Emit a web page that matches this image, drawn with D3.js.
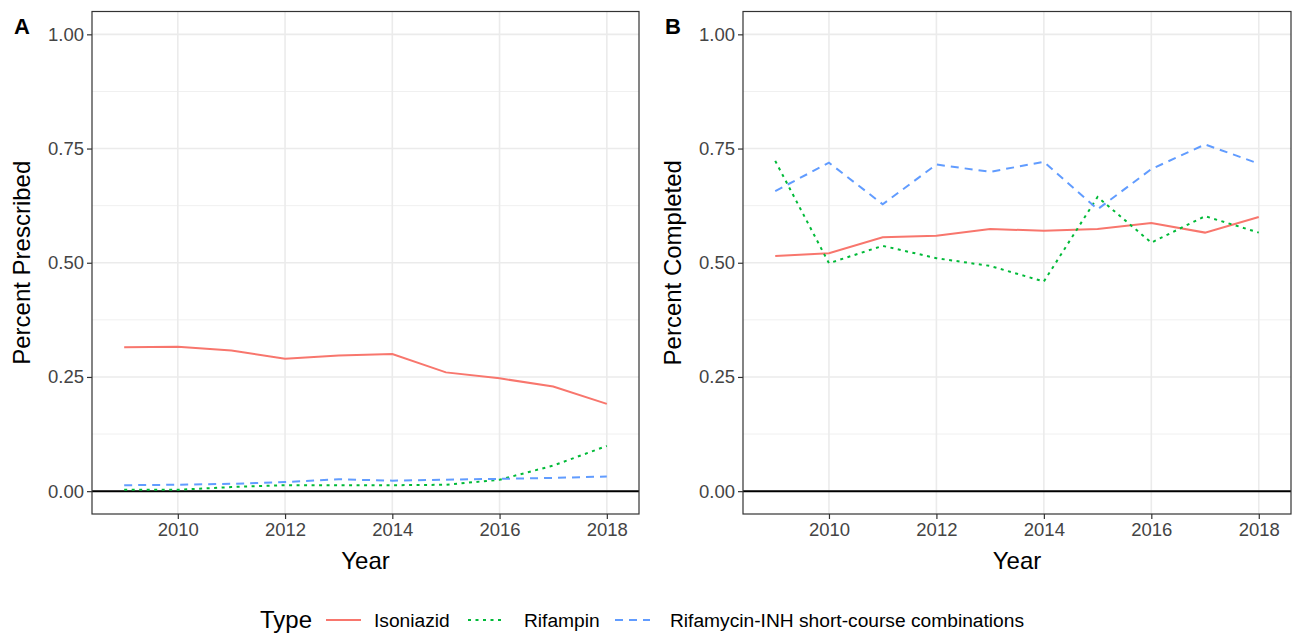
<!DOCTYPE html>
<html>
<head>
<meta charset="utf-8">
<script src="https://cdn.jsdelivr.net/npm/d3@7"></script>
<style>
  body { margin: 0; background: #fff; }
  svg { display: block; font-family: "Liberation Sans", Arial, sans-serif; }
</style>
</head>
<body>
<svg width="1292" height="634"></svg>
<script>
// data
var years = [2009, 2010, 2011, 2012, 2013, 2014, 2015, 2016, 2017, 2018];
var types = ["Isoniazid", "Rifampin", "Rifamycin-INH short-course combinations"];
var xTicks = [2010, 2012, 2014, 2016, 2018];
var yTicks = [0, 0.25, 0.5, 0.75, 1];
var yMinor = [0.125, 0.375, 0.625, 0.875];

// A: percent prescribed
var prescribedINH = [0.315, 0.316, 0.308, 0.290, 0.297, 0.300, 0.260, 0.247, 0.229, 0.191];
var prescribedRIF = [0.003, 0.003, 0.009, 0.013, 0.013, 0.013, 0.014, 0.025, 0.056, 0.099];
var prescribedCombo = [0.013, 0.014, 0.016, 0.020, 0.026, 0.023, 0.025, 0.027, 0.029, 0.032];

// B: percent completed
var completedINH = [0.515, 0.521, 0.556, 0.559, 0.574, 0.570, 0.574, 0.587, 0.566, 0.600];
var completedRIF = [0.723, 0.499, 0.537, 0.510, 0.493, 0.459, 0.644, 0.544, 0.602, 0.566];
var completedCombo = [0.657, 0.719, 0.628, 0.715, 0.699, 0.721, 0.617, 0.705, 0.759, 0.717];

var colors = ["#F8766D", "#00BA38", "#619CFF"];
var dashes = [null, "3,4.5", "8,6"];

var svg = d3.select("svg");

var panels = [
  {tag: "A", ylab: "Percent Prescribed", left: 92, right: 639, series: [prescribedINH, prescribedRIF, prescribedCombo]},
  {tag: "B", ylab: "Percent Completed", left: 743, right: 1291, series: [completedINH, completedRIF, completedCombo]}
];

var plotTop = 11.5, plotBottom = 514;

panels.forEach(function(p) {
  var x = d3.scaleLinear().domain([2008.4, 2018.6]).range([p.left, p.right]);
  var y = d3.scaleLinear().domain([-0.05, 1.05]).range([plotBottom, plotTop]);

  var g = svg.append("g");

  // grid
  g.selectAll(".minor").data(yMinor).enter().append("line")
    .attr("x1", p.left).attr("x2", p.right)
    .attr("y1", d => y(d)).attr("y2", d => y(d))
    .attr("stroke", "#F0F0F0").attr("stroke-width", 1);
  g.selectAll(".majory").data(yTicks).enter().append("line")
    .attr("x1", p.left).attr("x2", p.right)
    .attr("y1", d => y(d)).attr("y2", d => y(d))
    .attr("stroke", "#EBEBEB").attr("stroke-width", 1.6);
  g.selectAll(".majorx").data(xTicks).enter().append("line")
    .attr("y1", plotTop).attr("y2", plotBottom)
    .attr("x1", d => x(d)).attr("x2", d => x(d))
    .attr("stroke", "#EBEBEB").attr("stroke-width", 1.6);

  // hline at zero
  g.append("line")
    .attr("x1", p.left).attr("x2", p.right)
    .attr("y1", y(0)).attr("y2", y(0))
    .attr("stroke", "#000").attr("stroke-width", 2);

  var line = d3.line()
    .x((d, i) => x(years[i]))
    .y(d => y(d));

  p.series.forEach(function(s, k) {
    g.append("path")
      .datum(s)
      .attr("d", line)
      .attr("fill", "none")
      .attr("stroke", colors[k])
      .attr("stroke-width", 2)
      .attr("stroke-dasharray", dashes[k]);
  });

  // border
  g.append("rect")
    .attr("x", p.left).attr("y", plotTop)
    .attr("width", p.right - p.left).attr("height", plotBottom - plotTop)
    .attr("fill", "none").attr("stroke", "#333").attr("stroke-width", 1.2);

  // axes
  var xAxis = d3.axisBottom(x).tickValues(xTicks).tickFormat(d3.format("d")).tickSize(5).tickPadding(4);
  var yAxis = d3.axisLeft(y).tickValues(yTicks).tickFormat(d3.format(".2f")).tickSize(5).tickPadding(3);

  var gx = g.append("g").attr("transform", "translate(0," + plotBottom + ")").call(xAxis);
  var gy = g.append("g").attr("transform", "translate(" + p.left + ",0)").call(yAxis);
  [gx, gy].forEach(function(a) {
    a.select(".domain").remove();
    a.selectAll(".tick line").attr("stroke", "#333").attr("stroke-width", 1.2);
    a.selectAll(".tick text").attr("fill", "#444").style("font-size", "18.5px")
      .style("font-family", "'Liberation Sans', Arial, sans-serif");
  });

  // titles
  g.append("text")
    .attr("x", (p.left + p.right) / 2).attr("y", 569)
    .attr("text-anchor", "middle")
    .style("font-size", "24px")
    .text("Year");
  g.append("text")
    .attr("transform", "translate(" + (p.left - 62) + "," + ((plotTop + plotBottom) / 2) + ") rotate(-90)")
    .attr("text-anchor", "middle")
    .style("font-size", "24px")
    .text(p.ylab);
  g.append("text")
    .attr("x", p.left - 78).attr("y", 33.5)
    .style("font-size", "22px").style("font-weight", "bold")
    .text(p.tag);
});

// legend
var legend = svg.append("g").attr("transform", "translate(0,620)");
legend.append("text").attr("x", 260).attr("y", 8).style("font-size", "24px").text("Type");
var keyX = [326, 468, 615];
var labX = [374, 524, 670];
types.forEach(function(t, k) {
  legend.append("line")
    .attr("x1", keyX[k]).attr("x2", keyX[k] + 35)
    .attr("y1", 0).attr("y2", 0)
    .attr("stroke", colors[k]).attr("stroke-width", 2)
    .attr("stroke-dasharray", dashes[k]);
  legend.append("text")
    .attr("x", labX[k]).attr("y", 6.5)
    .style("font-size", "19.2px")
    .text(t);
});
</script>
</body>
</html>
